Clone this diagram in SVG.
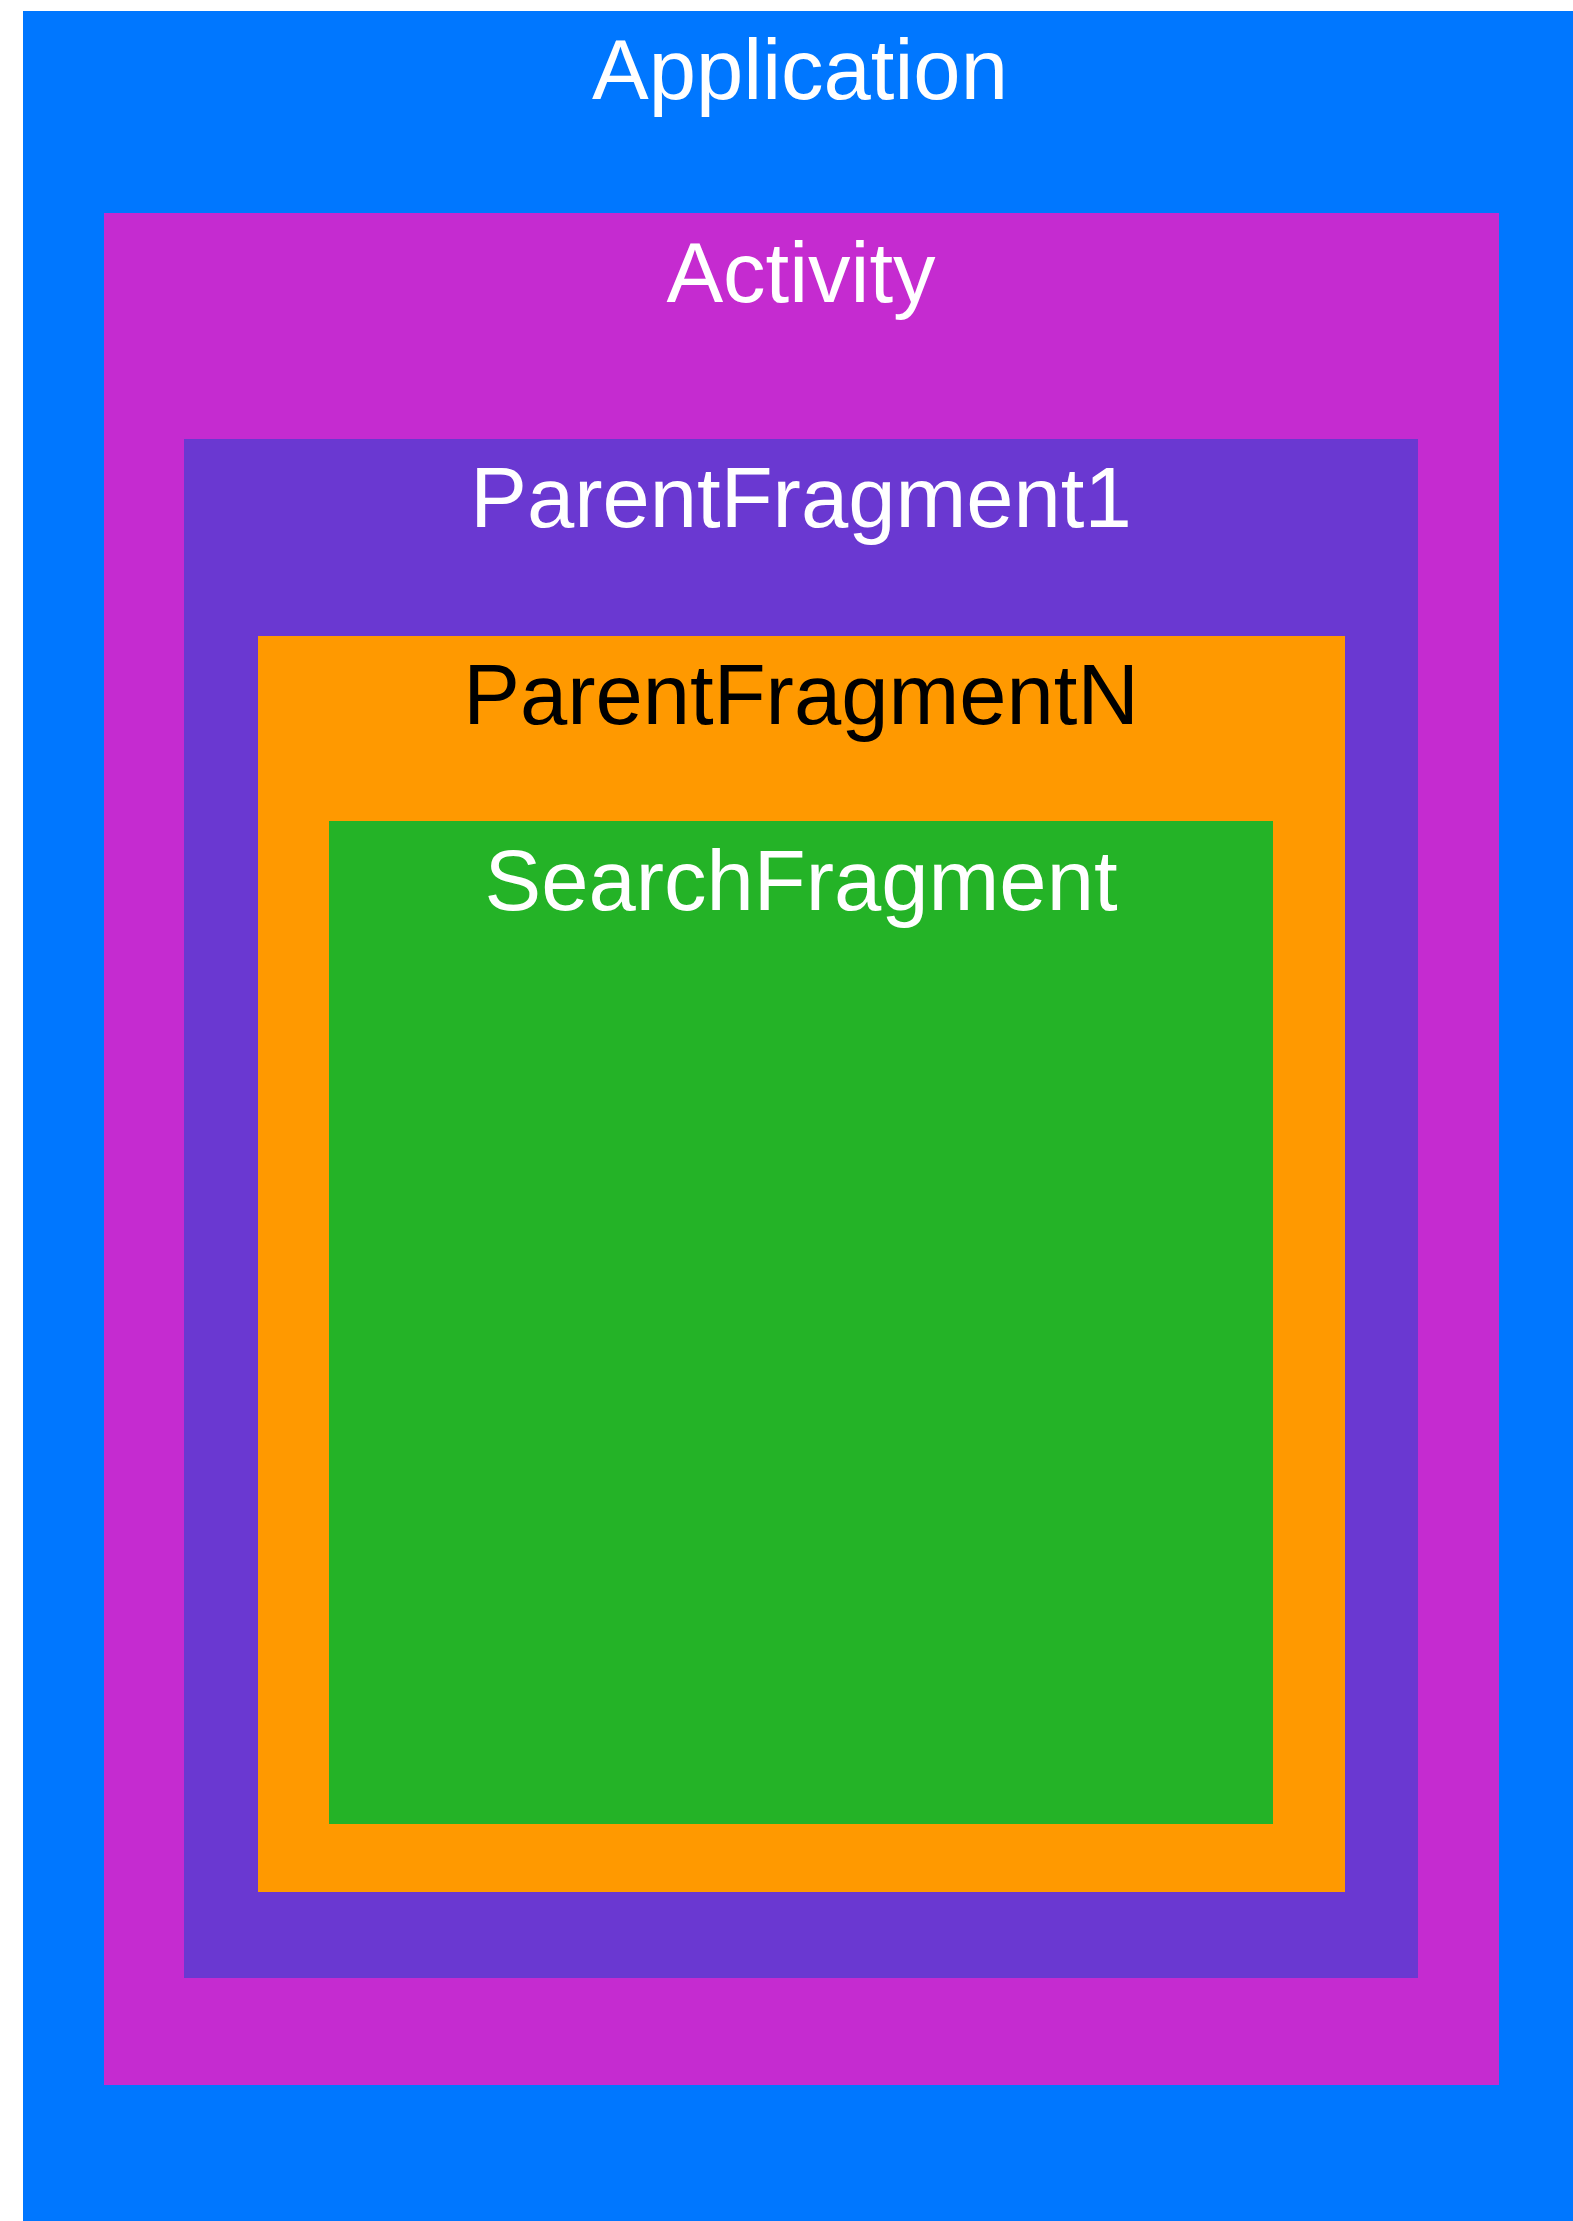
<svg xmlns="http://www.w3.org/2000/svg" width="1573" height="2221" viewBox="0 0 1573 2221">
<style>
.lbl{font-family:"Liberation Sans",Arial,sans-serif;font-size:85px;text-anchor:middle}
.w{fill:#ffffff}
.k{fill:#000000}
</style>
<rect width="1573" height="2221" fill="#ffffff"/>
<g id="application">
<rect x="23" y="11" width="1560" height="2220" fill="#0077FF"/>
<text class="lbl w" x="800" y="99">Application</text>
</g>
<g id="activity">
<rect x="104" y="213" width="1395" height="1872" fill="#C52BD0"/>
<text class="lbl w" x="801" y="302">Activity</text>
</g>
<g id="parentfragment1">
<rect x="184" y="439" width="1234" height="1539" fill="#6A38D1"/>
<text class="lbl w" x="801" y="527">ParentFragment1</text>
</g>
<g id="parentfragmentN">
<rect x="258" y="636" width="1087" height="1256" fill="#FF9900"/>
<text class="lbl k" x="801" y="724">ParentFragmentN</text>
</g>
<g id="searchfragment">
<rect x="329" y="821" width="944" height="1003" fill="#24B327"/>
<text class="lbl w" x="801" y="910">SearchFragment</text>
</g>
<g id="connectors"></g>
</svg>
